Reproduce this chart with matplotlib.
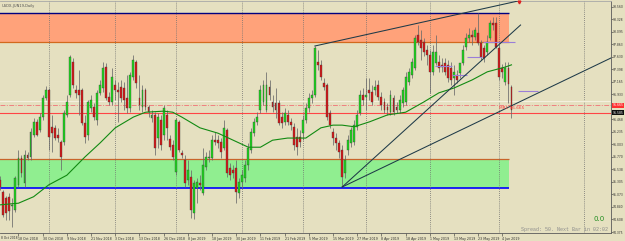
import matplotlib
matplotlib.use('Agg')
import matplotlib.pyplot as plt
import matplotlib.transforms as mtrans
import numpy as np

# USDX-JUN19 Tageskerzen (10.10.2018 - 07.06.2019)
opens = [95.34, 95.12, 95.01, 95.03, 94.86, 94.78, 95.25, 95.75, 95.29, 95.81,
         95.77, 96.18, 96.42, 96.27, 96.51, 96.86, 97.01, 96.33, 96.31, 96.18,
         96.05, 96.05, 96.55, 96.92, 97.53, 97.01, 97.01, 97.01, 96.40, 96.18,
         96.68, 96.70, 96.46, 96.96, 97.05, 97.44, 96.88, 96.79, 97.11, 97.01,
         97.07, 97.05, 96.86, 96.68, 97.25, 97.53, 96.86, 96.70, 97.01, 96.70,
         96.49, 96.55, 96.12, 96.46, 96.18, 96.55, 96.10, 95.99, 95.49, 96.42,
         95.84, 95.71, 95.34, 95.40, 94.73, 95.19, 95.29, 95.10, 95.58, 95.75,
         95.75, 96.08, 96.08, 96.05, 95.94, 96.27, 95.56, 95.53, 95.56, 95.10,
         95.30, 95.38, 95.62, 95.90, 96.21, 96.42, 96.64, 96.79, 96.64, 97.07,
         96.79, 96.77, 96.77, 96.51, 96.42, 96.55, 96.42, 96.33, 96.14, 96.14,
         96.21, 96.46, 96.68, 96.86, 96.92, 97.53, 97.48, 97.14, 97.11, 96.59,
         96.23, 96.12, 96.03, 95.90, 95.47, 95.90, 96.03, 96.05, 96.33, 96.59,
         96.92, 96.88, 97.01, 96.98, 97.01, 97.11, 96.88, 96.79, 96.70, 96.60,
         96.86, 96.70, 96.64, 96.77, 96.79, 97.16, 97.29, 97.42, 98.03, 97.94,
         97.90, 97.76, 97.66, 97.35, 97.51, 97.53, 97.48, 97.51, 97.48, 97.42,
         97.24, 97.29, 97.33, 97.51, 97.81, 97.98, 98.03, 98.00, 98.07, 97.89,
         97.79, 97.72, 97.98, 98.26, 98.26, 97.79, 97.42, 97.16, 97.42, 97.07]
highs = [95.42, 95.16, 95.04, 95.10, 95.01, 95.42, 95.90, 95.81, 95.90, 95.86,
         96.31, 96.49, 96.47, 96.59, 96.92, 97.09, 97.05, 96.55, 96.36, 96.31,
         96.08, 96.64, 96.92, 97.66, 97.61, 97.11, 97.38, 97.05, 96.55, 96.83,
         96.92, 96.77, 97.01, 97.20, 97.53, 97.51, 96.98, 97.42, 97.20, 97.16,
         97.20, 97.16, 97.29, 97.35, 97.66, 97.57, 97.29, 97.11, 97.05, 96.73,
         96.64, 96.60, 96.59, 96.55, 96.73, 96.64, 96.18, 96.08, 96.49, 96.46,
         95.90, 95.81, 95.71, 95.53, 95.34, 95.38, 95.43, 95.94, 95.86, 95.90,
         96.18, 96.23, 96.18, 96.12, 96.46, 96.31, 95.66, 95.62, 95.71, 95.38,
         95.53, 95.71, 96.03, 96.31, 96.49, 96.60, 97.11, 97.20, 97.35, 97.20,
         96.92, 97.05, 96.83, 96.60, 96.68, 96.64, 96.49, 96.40, 96.31, 96.27,
         96.55, 96.77, 96.96, 97.01, 97.83, 97.76, 97.57, 97.24, 97.14, 96.64,
         96.31, 96.21, 96.08, 95.99, 95.81, 96.18, 96.33, 96.46, 96.64, 97.01,
         97.05, 97.24, 97.24, 97.11, 97.20, 97.20, 96.98, 96.86, 96.77, 97.01,
         96.92, 96.79, 96.92, 97.07, 97.35, 97.42, 97.61, 98.03, 98.22, 98.13,
         97.98, 97.85, 97.76, 97.85, 98.03, 97.66, 97.61, 97.61, 97.57, 97.53,
         97.48, 97.38, 97.51, 97.85, 98.07, 98.16, 98.13, 98.18, 98.44, 97.94,
         97.85, 98.03, 98.31, 98.37, 98.37, 97.85, 97.50, 97.53, 97.53, 97.11]
lows = [95.16, 94.65, 94.60, 94.60, 94.47, 94.75, 95.21, 95.40, 95.21, 95.71,
        95.71, 96.14, 96.16, 96.23, 96.46, 96.83, 95.90, 95.86, 96.08, 96.05,
        95.53, 95.99, 96.51, 96.88, 97.05, 96.86, 96.55, 96.36, 96.03, 96.08,
        96.60, 96.46, 96.36, 96.92, 96.98, 96.83, 96.73, 96.73, 96.83, 96.42,
        96.79, 96.64, 96.59, 96.60, 97.20, 97.05, 96.64, 96.60, 96.64, 96.51,
        96.42, 95.81, 95.94, 95.90, 96.08, 96.08, 95.90, 95.71, 95.43, 95.86,
        95.75, 95.21, 95.25, 94.64, 94.62, 94.91, 95.16, 95.06, 95.53, 95.68,
        95.71, 95.99, 95.94, 95.75, 95.90, 95.40, 95.34, 95.38, 94.91, 95.01,
        95.19, 95.30, 95.53, 95.84, 96.16, 96.36, 96.59, 96.73, 96.60, 96.83,
        96.60, 96.49, 96.36, 96.31, 96.36, 96.36, 96.27, 95.90, 95.81, 95.95,
        96.08, 96.40, 96.60, 96.77, 96.88, 97.38, 97.20, 97.01, 96.46, 96.31,
        95.99, 95.90, 95.75, 95.21, 95.38, 95.81, 95.95, 95.99, 96.27, 96.55,
        96.73, 96.64, 96.83, 96.73, 96.92, 96.83, 96.64, 96.59, 96.55, 96.55,
        96.55, 96.59, 96.59, 96.70, 96.73, 97.11, 97.24, 97.38, 97.85, 97.57,
        97.64, 97.48, 96.96, 97.29, 97.48, 97.35, 97.35, 97.29, 97.16, 97.11,
        96.92, 97.14, 97.24, 97.48, 97.76, 97.90, 97.85, 97.94, 97.85, 97.57,
        97.53, 97.66, 97.94, 98.13, 97.79, 97.20, 97.24, 97.11, 96.77, 96.49]
closes = [95.21, 94.69, 94.73, 94.77, 94.88, 95.38, 95.75, 95.47, 95.81, 95.75,
          96.23, 96.42, 96.18, 96.51, 96.86, 97.01, 96.14, 96.21, 96.12, 96.12,
          95.77, 96.59, 96.79, 97.63, 97.11, 96.96, 96.92, 96.40, 96.14, 96.79,
          96.83, 96.51, 96.96, 97.11, 97.42, 96.86, 96.79, 97.25, 97.01, 96.98,
          96.86, 96.83, 96.68, 97.29, 97.57, 97.14, 96.73, 97.01, 96.70, 96.60,
          96.55, 95.94, 96.51, 95.99, 96.68, 96.31, 95.95, 95.77, 96.46, 95.90,
          95.81, 95.29, 95.53, 94.78, 95.29, 95.30, 95.25, 95.62, 95.77, 95.77,
          96.08, 96.05, 96.03, 95.86, 96.31, 95.47, 95.43, 95.47, 95.12, 95.30,
          95.43, 95.62, 95.94, 96.23, 96.42, 96.51, 97.01, 97.11, 97.11, 96.92,
          96.70, 96.64, 96.40, 96.40, 96.59, 96.42, 96.36, 95.99, 95.95, 96.05,
          96.46, 96.68, 96.86, 96.92, 97.79, 97.48, 97.25, 97.07, 96.51, 96.36,
          96.12, 96.03, 95.86, 95.40, 95.71, 96.08, 96.27, 96.36, 96.55, 96.92,
          96.83, 96.92, 96.96, 96.79, 97.07, 96.88, 96.73, 96.64, 96.64, 96.92,
          96.60, 96.64, 96.83, 97.01, 97.25, 97.35, 97.53, 97.98, 97.90, 97.79,
          97.72, 97.66, 97.35, 97.72, 97.72, 97.42, 97.44, 97.35, 97.24, 97.20,
          97.35, 97.20, 97.51, 97.76, 97.98, 98.03, 98.00, 98.13, 97.89, 97.63,
          97.61, 97.90, 98.26, 98.22, 97.81, 97.25, 97.35, 97.42, 97.12, 96.64]

ma_bars = [0, 6, 11, 16, 22, 28, 33, 38, 44, 48, 54, 57, 60, 66, 72, 77, 82, 86,
           90, 95, 101, 106, 110, 113, 117, 122, 128, 134, 140, 145, 150, 156,
           161, 167, 169]
ma_vals = [94.88, 94.91, 95.03, 95.25, 95.43, 95.77, 96.03, 96.31, 96.51, 96.60,
           96.62, 96.60, 96.51, 96.31, 96.21, 96.08, 95.95, 95.95, 96.08, 96.12,
           96.12, 96.31, 96.36, 96.36, 96.33, 96.42, 96.55, 96.60, 96.79, 96.96,
           97.05, 97.20, 97.35, 97.44, 97.48]

# Trendlinien (Bar-Index, Preis)
upper_bars, upper_vals = [104, 171.5], [97.83, 98.67]
steep_bars, steep_vals = [113, 172], [95.21, 98.22]
flat_bars, flat_vals = [113, 202], [95.21, 97.61]

# Zonen
sell_zone = (97.90, 98.44)
buy_zone = (95.19, 95.725)
zone_end = 168.2

# horizontale Linien
ask_level = 96.81
mr1_level = 96.73
bid_level = 96.59

# Pivot-Stuecke (von, bis, Preis)
pivot_from = [143.7, 149.2, 154.2, 159.6, 171.2]
pivot_to = [149.2, 154.2, 159.1, 170.2, 177.8]
pivot_vals = [97.45, 97.30, 97.63, 97.90, 97.00]

# Achsenbeschriftung
price_ticks = [98.560, 98.328, 98.095, 97.863, 97.630, 97.398, 97.165, 96.933,
               96.468, 96.235, 96.003, 95.770, 95.538, 95.305, 95.073, 94.840,
               94.608, 94.375]
price_labels = ['98.560', '98.328', '98.095', '97.863', '97.630', '97.398', '97.165',
                '96.933', '96.468', '96.235', '96.003', '95.770', '95.538', '95.305',
                '95.073', '94.840', '94.608', '94.375']
month_bars = [16, 38, 58, 80, 100, 121, 142, 165, 193]
date_bars = [6, 14, 22, 30, 38, 46, 54, 62, 70, 78, 86, 94, 102, 110, 118, 126,
             134, 142, 150, 158, 166]
date_labels = ['18 Oct 2018', '30 Oct 2018', '9 Nov 2018', '21 Nov 2018', '3 Dec 2018',
               '13 Dec 2018', '26 Dec 2018', '8 Jan 2019', '18 Jan 2019', '30 Jan 2019',
               '11 Feb 2019', '21 Feb 2019', '5 Mar 2019', '15 Mar 2019', '27 Mar 2019',
               '8 Apr 2019', '18 Apr 2019', '1 May 2019', '13 May 2019', '23 May 2019',
               '4 Jun 2019']

bg = '#E5E0C0'
fig = plt.figure(figsize=(6.25, 2.41), dpi=100, facecolor=bg)
ax = fig.add_axes([0, 8 / 241, 611 / 625, 232 / 241], facecolor=bg)
ax.set_xlim(-0.1, 201.9)
ax.set_ylim(94.3565, 98.6659)

# Zonen
ax.fill_between([-2, zone_end], sell_zone[0], sell_zone[1], color='#FFA27A', lw=0, zorder=1)
ax.hlines(sell_zone[1], -2, zone_end, color='#000080', lw=1.0, zorder=2)
ax.hlines(sell_zone[0], -2, zone_end, color='#D2691E', lw=0.9, zorder=2)
ax.fill_between([-2, zone_end], buy_zone[0], buy_zone[1], color='#90EE90', lw=0, zorder=1)
ax.hlines(buy_zone[1], -2, zone_end, color='#C8642A', lw=0.9, zorder=2)
ax.hlines(buy_zone[0], -2, zone_end, color='#0000FF', lw=1.2, zorder=2)

# Monatsraster
for m in month_bars:
    ax.axvline(m, color='#707070', lw=0.6, ls=(0, (1, 1.5)), zorder=2)

# horizontale Linien
ax.axhline(ask_level, color='#F4F0DE', lw=0.8, zorder=2)
ax.axhline(mr1_level, color='#F08080', lw=0.7, ls=(0, (5, 1.5, 1, 1.5)), zorder=2)
ax.axhline(bid_level, color='#FF4545', lw=0.8, zorder=2)

# Kerzen
x = np.arange(len(opens))
o = np.array(opens)
c = np.array(closes)
ax.vlines(x, lows, highs, color='#6A6A6A', lw=0.55, zorder=3)
body_lo = np.minimum(o, c)
body_h = np.maximum(np.abs(c - o), 0.012)
fills = np.where(c >= o, '#1ED81E', '#D81818')
ax.bar(x, body_h, bottom=body_lo, width=0.62, color=fills, edgecolor='#3A3A3A',
       linewidth=0.25, zorder=4)

# gleitender Durchschnitt
ax.plot(ma_bars, ma_vals, color='#128A12', lw=0.8, zorder=5)

# Trendlinien
for bx, by in [(upper_bars, upper_vals), (steep_bars, steep_vals), (flat_bars, flat_vals)]:
    ax.plot(bx, by, color='#1E3A48', lw=0.75, zorder=6)
ax.plot(upper_bars[1], 98.65, marker='v', ms=2, color='#E02020', zorder=6, clip_on=False)

# Pivot-Stuecke
ax.hlines(pivot_vals, pivot_from, pivot_to, color='#9A7ED8', lw=0.8, zorder=5)

ax.text(164.8, mr1_level - 0.01, 'MR1 96.665', fontsize=3.1, color='#FF3A3A',
        va='top', ha='left', zorder=7)

# Achsen
ax.spines['left'].set_visible(False)
ax.spines['top'].set_color('#A8A8A8')
ax.spines['top'].set_linewidth(0.6)
ax.spines['bottom'].set_color('#5A5A5A')
ax.spines['bottom'].set_linewidth(0.6)
ax.spines['right'].set_color('#5A5A5A')
ax.spines['right'].set_linewidth(0.6)

ax.yaxis.tick_right()
ax.set_yticks(price_ticks)
ax.set_yticklabels(price_labels)
ax.tick_params(axis='y', labelsize=2.2, length=1.2, width=0.4, pad=0.4,
               colors='#303030')

ax.set_xticks(date_bars)
ax.set_xticklabels(date_labels)
ax.tick_params(axis='x', labelsize=2.3, length=2, width=0.4, pad=0.6,
               colors='#303030')
for lab in ax.get_xticklabels():
    lab.set_ha('left')
ax.text(0.001, -0.012, '8 Oct 2018', transform=ax.transAxes,
        fontsize=2.2, color='#303030', ha='left', va='top', clip_on=False)

# Preisfelder rechts
yt = mtrans.blended_transform_factory(ax.transAxes, ax.transData)
ax.text(1.003, mr1_level, '96.665', transform=yt, fontsize=2.2, color='white',
        va='center', ha='left', clip_on=False,
        bbox=dict(boxstyle='square,pad=0.2', fc='#FF3030', ec='none'))
ax.text(1.003, bid_level, '96.585', transform=yt, fontsize=2.2, color='white',
        va='center', ha='left', clip_on=False,
        bbox=dict(boxstyle='square,pad=0.2', fc='#101010', ec='none'))

# Texte
fig.text(0.002, 1 - 5.5 / 241, 'USDX-JUN19,Daily', fontsize=2.6, color='#505050',
         va='center', ha='left')
fig.text(593 / 625, 1 - 219 / 241, '0.0', fontsize=5, color='#1E8C1E',
         va='center', ha='left')
fig.text(608 / 625, 1 - 229.5 / 241, 'Spread: 50. Next Bar in 02:02', fontsize=3.6,
         color='#8C8C8C', family='Liberation Mono', va='center', ha='right')

plt.savefig('out.png', dpi=100, facecolor=bg)
